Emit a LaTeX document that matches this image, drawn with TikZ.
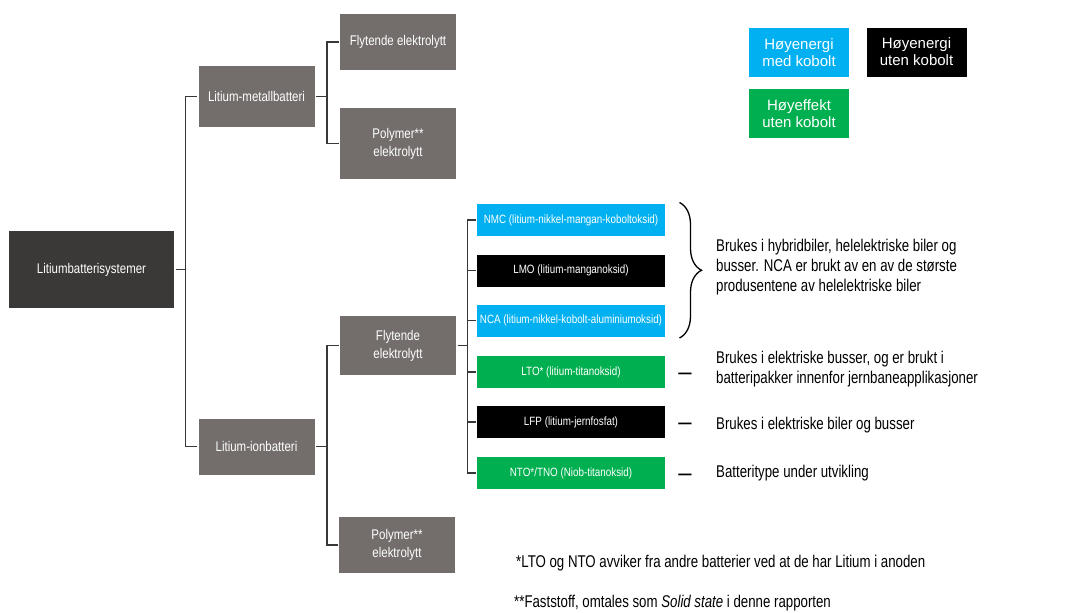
\documentclass[tikz,border=0pt]{standalone}
\usepackage{fontspec}
\setmainfont{Liberation Sans}[FakeStretch=0.82]
\newfontfamily\notefont{Liberation Sans}[FakeStretch=0.78]
\newfontfamily\legendfont{Liberation Sans}
\usetikzlibrary{decorations.pathreplacing}
\definecolor{mydarkgray}{HTML}{3B3937}
\definecolor{mygray}{HTML}{736E6C}
\definecolor{myblue}{HTML}{00B0F0}
\definecolor{mygreen}{HTML}{00B050}
\colorlet{myline}{black!78}
\tikzset{
  box/.style={inner sep=0,outer sep=1.5,text=white,align=center,font=\fontsize{14}{18}\selectfont},
  node root/.style={box,fill=mydarkgray,minimum width=165,minimum height=77},
  node gray/.style={box,fill=mygray,minimum width=116,minimum height=56},
  node chem/.style={box,minimum width=188,minimum height=32,font=\fontsize{12}{14}\selectfont},
  node blue/.style={node chem,fill=myblue},
  node black/.style={node chem,fill=black},
  node green/.style={node chem,fill=mygreen},
  node legend/.style={box,minimum width=100,minimum height=49,font=\legendfont\fontsize{15}{17}\selectfont},
  note/.style={anchor=west,align=left,inner sep=0,font=\notefont\fontsize{17}{20}\selectfont},
  dashnode/.style={inner sep=0,font=\notefont\bfseries\fontsize{17}{20}\selectfont},
  connect/.style={line width=1.5,myline},
  brace/.style={decorate,decoration={brace,amplitude=22},line width=1.3,black}
}

\begin{document}
\begin{tikzpicture}[x=1pt,y=-1pt]
    \useasboundingbox (0,0) rectangle (1079,613);

    \node[node root] (root) at (91.5,269.5) {Litiumbatterisystemer};
    \node[node gray,minimum height=61] (metal) at (256.5,96.5) {Litium-metallbatteri};
    \node[node gray] (ion) at (256.5,446.5) {Litium-ionbatteri};
    \node[node gray] (mliq) at (398,42) {Flytende elektrolytt};
    \node[node gray,minimum height=71] (mpoly) at (398,143.5) {Polymer**\\elektrolytt};
    \node[node gray,minimum height=59] (iliq) at (398,345.5) {Flytende\\elektrolytt};
    \node[node gray] (ipoly) at (397,545) {Polymer**\\elektrolytt};

    \node[node blue] (nmc) at (571,220) {NMC (litium-nikkel-mangan-koboltoksid)};
    \node[node black] (lmo) at (571,270.5) {LMO (litium-manganoksid)};
    \node[node blue] (nca) at (571,320.5) {NCA (litium-nikkel-kobolt-aluminiumoksid)};
    \node[node green] (lto) at (571,372) {LTO* (litium-titanoksid)};
    \node[node black] (lfp) at (571,422) {LFP (litium-jernfosfat)};
    \node[node green] (nto) at (571,473) {NTO*/TNO (Niob-titanoksid)};

    \node[node legend,fill=myblue] (leg1) at (799,52.5) {Høyenergi\\med kobolt};
    \node[node legend,fill=black] (leg2) at (916.5,52) {Høyenergi\\uten kobolt};
    \node[node legend,fill=mygreen] (leg3) at (799,113.5) {Høyeffekt\\uten kobolt};

    \draw[connect] (root.east) -- ++(10,0) coordinate (j0) |- (metal.west);
    \draw[connect] (j0) |- (ion.west);
    \draw[connect] (metal.east) -- ++(11,0) coordinate (j1) |- (mliq.west);
    \draw[connect] (j1) |- (mpoly.west);
    \draw[connect] (ion.east) -- ++(11,0) coordinate (j2) |- (iliq.west);
    \draw[connect] (j2) |- (ipoly.west);
    \draw[connect] (iliq.east) -- ++(10,0) coordinate (j3);
    \foreach \b in {nmc,lmo,nca,lto,lfp,nto}
        \draw[connect] (j3) |- (\b.west);

    \draw[brace] ([xshift=13]nmc.north east) -- ([xshift=13]nca.south east);
    \node[note] (use1) at (716,267) {Brukes i hybridbiler, helelektriske biler og\\busser. NCA er brukt av en av de største\\produsentene av helelektriske biler};

    \node[dashnode] (d1) at (685,376) {—};
    \node[note] (use2) at (716,369) {Brukes i elektriske busser, og er brukt i\\batteripakker innenfor jernbaneapplikasjoner};
    \node[dashnode] (d2) at (685,426) {—};
    \node[note] (use3) at (716,425) {Brukes i elektriske biler og busser};
    \node[dashnode] (d3) at (685,477) {—};
    \node[note] (use4) at (716,473) {Batteritype under utvikling};

    \node[note] (fn1) at (516,563) {*LTO og NTO avviker fra andre batterier ved at de har Litium i anoden};
    \node[note] (fn2) at (514,603) {**Faststoff, omtales som \textit{Solid state} i denne rapporten};
\end{tikzpicture}
\end{document}
